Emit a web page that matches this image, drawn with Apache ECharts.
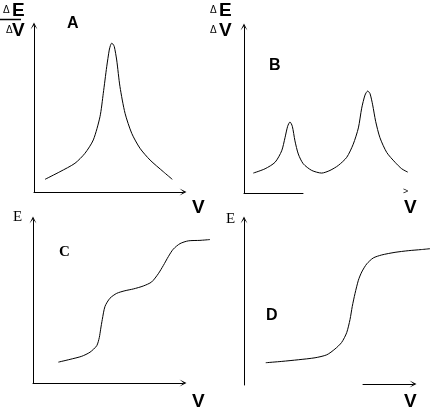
<!DOCTYPE html>
<html>
<head>
<meta charset="utf-8">
<script src="https://cdn.jsdelivr.net/npm/echarts@6/dist/echarts.min.js"></script>
<style>html,body{margin:0;padding:0;background:#fff}#c{width:431px;height:411px}</style>
</head>
<body>
<div id="c"></div>
<script>
// Panel A: dE/dV vs V (single peak)
const aV = [7.4, 17.4, 27.5, 34.2, 39.8, 44.3, 46.5, 48.8, 50.5, 51.3, 52.1, 53.0, 53.9, 55.5, 57.7, 61.1, 65.6, 71.1, 77.9, 86.8, 92.8];
const aD = [7.5, 12.0, 17.0, 22.9, 30.8, 44.6, 58.4, 74.1, 84.0, 86.7, 88.0, 87.5, 86.0, 78.1, 62.3, 46.6, 34.7, 25.9, 18.9, 12.0, 7.5];
// Panel B: dE/dV vs V (two peaks)
const bV = [5.6, 12.7, 18.7, 22.7, 24.7, 26.3, 27.7, 29.1, 30.7, 32.7, 35.7, 40.8, 46.8, 51.8, 56.8, 61.9, 65.8, 68.9, 70.9, 72.9, 74.5, 75.9, 77.5, 79.3, 81.9, 86.0, 91.0, 95.0, 98.6];
const bD = [12.0, 14.6, 18.5, 25.4, 33.3, 40.2, 42.8, 40.2, 31.4, 23.5, 17.6, 13.6, 12.0, 13.6, 16.6, 21.5, 29.4, 39.2, 51.1, 59.0, 61.4, 59.9, 53.1, 43.2, 33.3, 24.4, 18.5, 14.6, 12.6];
// Panel C: E vs V (two steps)
const cV = [16.9, 24.7, 32.5, 38.0, 42.5, 44.2, 45.1, 46.2, 48.0, 51.3, 55.8, 61.3, 66.9, 73.5, 79.1, 83.5, 86.9, 90.2, 93.5, 98.0, 103.5, 111.3, 118.0];
const cE = [12.8, 14.5, 16.4, 18.9, 22.9, 27.9, 33.0, 39.0, 47.0, 52.0, 55.0, 56.6, 57.7, 59.5, 62.0, 67.0, 72.1, 77.5, 82.1, 85.5, 87.2, 87.5, 88.0];
// Panel D: E vs V (single step)
const dV = [11.7, 20.3, 29.2, 38.2, 44.5, 48.9, 52.5, 55.2, 57.0, 58.2, 59.7, 61.5, 63.3, 66.0, 69.5, 74.0, 81.2, 88.3, 95.5, 100];
const dE = [13.5, 14.3, 15.3, 16.5, 18.3, 21.8, 25.8, 31.7, 39.7, 47.6, 55.5, 63.5, 68.5, 73.4, 77.0, 78.8, 80.4, 81.4, 82.1, 82.6];

const zip = (xs, ys) => xs.map((x, i) => [x, ys[i]]);
const arrow = 'path://M0,10L5,0L10,10L5,4Z';
const lineStyle = { color: '#000', width: 1 };
function axis(show, arrowEnd, max) {
  return {
    type: 'value', min: 0, max: max || 100,
    axisLine: { show: show, lineStyle: { color: '#000', width: 1 },
      symbol: arrowEnd ? ['none', arrow] : ['none', 'none'], symbolSize: [7, 7] },
    axisTick: { show: false }, axisLabel: { show: false }, splitLine: { show: false }
  };
}
const grids = [
  { left: 34, top: 26, width: 149, height: 166 },   // A
  { left: 244, top: 27, width: 166, height: 166 },  // B
  { left: 244, top: 27, width: 59, height: 166 },   // B x-axis piece
  { left: 33, top: 220, width: 177, height: 163 },  // C curve (V up to 118)
  { left: 33, top: 220, width: 150, height: 163 },  // C x-axis arrow
  { left: 244, top: 220, width: 186, height: 165 }, // D
  { left: 363, top: 220, width: 50, height: 164 }   // D x arrow
];
const xAxes = [axis(true, true), axis(false, false), axis(true, false), axis(false, false, 118), axis(true, true), axis(false, false), axis(true, true)];
const yAxes = [axis(true, true, 100 * 166 / 169), axis(true, true), axis(false, false), axis(true, true), axis(false, false), axis(true, true), axis(false, false)];
xAxes.forEach((a, i) => { a.gridIndex = i; });
yAxes.forEach((a, i) => { a.gridIndex = i; });
function ser(idx, data) {
  return { type: 'line', xAxisIndex: idx, yAxisIndex: idx, data: data, showSymbol: false,
    smooth: 0.25, clip: false, lineStyle: lineStyle, silent: true };
}
const sans = 'Liberation Sans';
const serif = 'Liberation Serif';
function txt(x, y, t, font) {
  return { type: 'text', x: x, y: y, style: { text: t, font: font, fill: '#000', textVerticalAlign: 'top' } };
}
const chart = echarts.init(document.getElementById('c'), null, { renderer: 'canvas' });
chart.setOption({
  animation: false,
  grid: grids,
  xAxis: xAxes,
  yAxis: yAxes,
  series: [ser(0, zip(aV, aD)), ser(1, zip(bV, bD)), ser(3, zip(cV, cE)), ser(5, zip(dV, dE))],
  graphic: [
    txt(3, 5, 'Δ', '10px ' + sans),
    txt(12, 1, 'E', 'bold 19px ' + sans),
    { type: 'line', shape: { x1: 0, y1: 19.5, x2: 21, y2: 19.5 }, style: { stroke: '#000', lineWidth: 1.5 } },
    txt(6, 25, 'Δ', '10px ' + sans),
    txt(12, 21, 'V', 'bold 19px ' + sans),
    txt(67, 16, 'A', 'bold 16px ' + sans),
    txt(192, 198, 'V', 'bold 19px ' + sans),
    txt(210, 5, 'Δ', '10px ' + sans),
    txt(219, 1, 'E', 'bold 19px ' + sans),
    txt(210, 25, 'Δ', '10px ' + sans),
    txt(219, 21, 'V', 'bold 19px ' + sans),
    txt(269, 58, 'B', 'bold 16px ' + sans),
    txt(403, 187, '>', '9px ' + sans),
    txt(404, 198, 'V', 'bold 19px ' + sans),
    txt(13, 210, 'E', '15px ' + serif),
    txt(59, 245, 'C', 'bold 15px ' + serif),
    txt(192, 392, 'V', 'bold 19px ' + sans),
    txt(226, 212, 'E', '15px ' + serif),
    txt(266, 308, 'D', 'bold 16px ' + sans),
    txt(404, 392, 'V', 'bold 19px ' + sans)
  ]
});
</script>
</body>
</html>
